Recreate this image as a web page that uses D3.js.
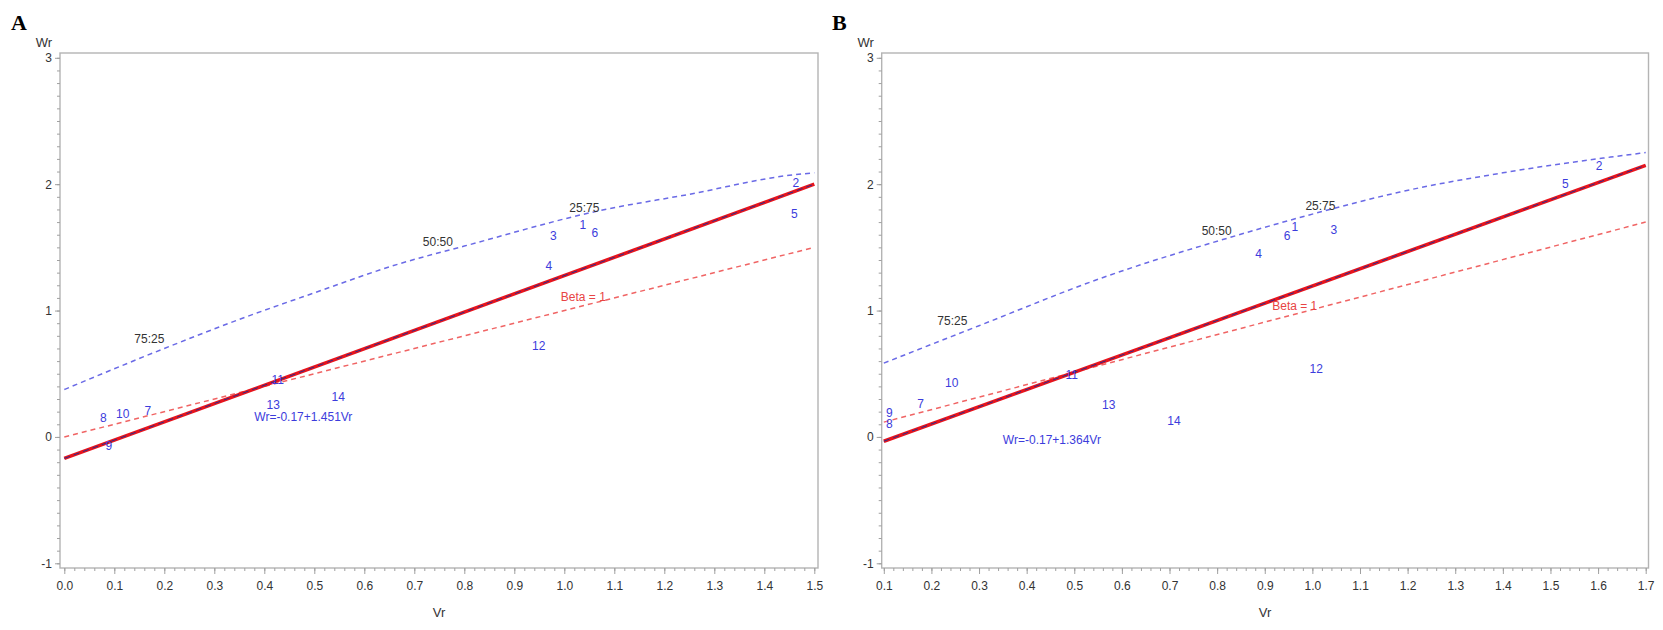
<!DOCTYPE html>
<html>
<head>
  <meta charset="utf-8">
  <script src="https://d3js.org/d3.v7.min.js"></script>
  <style>
    body { margin: 0; background: #fff; font-family: Arial, "Liberation Sans", sans-serif; }
  </style>
</head>
<body>
  <div id="my_dataviz"></div>
  <script>
    // ---- data, panel A ----
    var genotypes = ["1", "2", "3", "4", "5", "6", "7", "8", "9", "10", "11", "12", "13", "14"];
    var vrA = [1.037, 1.463, 0.978, 0.969, 1.46, 1.061, 0.167, 0.078, 0.089, 0.117, 0.427, 0.949, 0.418, 0.548];
    var wrA = [1.673, 2.011, 1.589, 1.349, 1.766, 1.613, 0.203, 0.153, -0.074, 0.185, 0.449, 0.722, 0.256, 0.314];
    var parabolaVrA = [0, 0.2, 0.35, 0.5, 0.67, 0.8, 1.07, 1.25, 1.45, 1.5];
    var parabolaWrA = [0.375, 0.70, 0.93, 1.14, 1.37, 1.51, 1.79, 1.92, 2.07, 2.09];
    var unitVrA = [0, 1.5];
    var unitWrA = [0, 1.5];
    var regVrA = [0, 1.5];
    var regWrA = [-0.17, 2.0];
    var ratioTextA = ["75:25", "50:50", "25:75"];
    var ratioVrA = [0.17, 0.747, 1.04];
    var ratioWrA = [0.778, 1.54, 1.81];
    var eqTextA = "Wr=-0.17+1.451Vr";
    var eqVrA = 0.38, eqWrA = 0.16;
    var betaVrA = 1.038, betaWrA = 1.107;
    var xTicksA = [0.0, 0.1, 0.2, 0.3, 0.4, 0.5, 0.6, 0.7, 0.8, 0.9, 1.0, 1.1, 1.2, 1.3, 1.4, 1.5];

    // ---- data, panel B ----
    var vrB = [0.963, 1.602, 1.045, 0.887, 1.531, 0.947, 0.1775, 0.1116, 0.1116, 0.2426, 0.4945, 1.008, 0.5722, 0.7093];
    var wrB = [1.661, 2.144, 1.64, 1.445, 2.005, 1.59, 0.262, 0.099, 0.19, 0.426, 0.487, 0.534, 0.251, 0.125];
    var parabolaVrB = [0.1, 0.3, 0.554, 0.83, 1.044, 1.184, 1.40, 1.7];
    var parabolaWrB = [0.584, 0.88, 1.253, 1.582, 1.807, 1.938, 2.09, 2.25];
    var unitVrB = [0.1, 1.7];
    var unitWrB = [0.117, 1.70];
    var regVrB = [0.1, 1.7];
    var regWrB = [-0.034, 2.149];
    var ratioTextB = ["75:25", "50:50", "25:75"];
    var ratioVrB = [0.244, 0.799, 1.017];
    var ratioWrB = [0.92, 1.63, 1.825];
    var eqTextB = "Wr=-0.17+1.364Vr";
    var eqVrB = 0.35, eqWrB = -0.021;
    var betaVrB = 0.963, betaWrB = 1.033;
    var xTicksB = [0.1, 0.2, 0.3, 0.4, 0.5, 0.6, 0.7, 0.8, 0.9, 1.0, 1.1, 1.2, 1.3, 1.4, 1.5, 1.6, 1.7];

    var yTicks = [-1, 0, 1, 2, 3];
    var yTickLabels = ["-1", "0", "1", "2", "3"];

    var svg = d3.select("#my_dataviz")
      .append("svg")
      .attr("width", 1663)
      .attr("height", 630);

    function zip(a, b) {
      return a.map(function (d, i) { return [d, b[i]]; });
    }

    function drawPanel(p) {
      var x = d3.scaleLinear().domain(p.xDomain).range(p.xRange);
      var y = d3.scaleLinear().domain([-1, 3]).range([563.3, 57.8]);
      var g = svg.append("g");

      // frame
      g.append("rect")
        .attr("x", p.frame[0]).attr("y", 53)
        .attr("width", p.frame[1] - p.frame[0]).attr("height", 568 - 53)
        .attr("fill", "none").attr("stroke", "#b4b4b4").attr("stroke-width", 1.4);

      // minor ticks
      var yMinor = d3.range(-10, 31).map(function (d) { return d / 10; });
      g.append("g")
        .attr("transform", "translate(" + p.frame[0] + ",0)")
        .call(d3.axisLeft(y).tickValues(yMinor).tickSize(3).tickFormat(""))
        .call(function (s) { s.select(".domain").remove(); s.selectAll("line").attr("stroke", "#a0a0a0"); });
      var xMinor = d3.range(Math.round(p.xDomain[0] * 50), Math.round(p.xDomain[1] * 50) + 1).map(function (d) { return d / 50; });
      g.append("g")
        .attr("transform", "translate(0,568)")
        .call(d3.axisBottom(x).tickValues(xMinor).tickSize(3).tickFormat(""))
        .call(function (s) { s.select(".domain").remove(); s.selectAll("line").attr("stroke", "#a0a0a0"); });

      // major ticks + labels
      g.append("g")
        .attr("transform", "translate(" + p.frame[0] + ",0)")
        .call(d3.axisLeft(y).tickValues(yTicks).tickSize(5).tickPadding(3)
          .tickFormat(function (d, i) { return yTickLabels[i]; }))
        .call(function (s) {
          s.select(".domain").remove();
          s.selectAll("line").attr("stroke", "#a0a0a0");
          s.selectAll("text").attr("fill", "#333").style("font-size", "12px").style("font-family", "Arial, 'Liberation Sans', sans-serif");
        });
      g.append("g")
        .attr("transform", "translate(0,568)")
        .call(d3.axisBottom(x).tickValues(p.xTicks).tickSize(6).tickPadding(7).tickFormat(d3.format(".1f")))
        .call(function (s) {
          s.select(".domain").remove();
          s.selectAll("line").attr("stroke", "#a0a0a0");
          s.selectAll("text").attr("fill", "#333").style("font-size", "12px").style("font-family", "Arial, 'Liberation Sans', sans-serif");
        });

      // axis titles
      g.append("text")
        .attr("x", p.frame[0] - 16).attr("y", 47)
        .attr("text-anchor", "middle").attr("fill", "#333").style("font-size", "13px")
        .text("Wr");
      g.append("text")
        .attr("x", (p.frame[0] + p.frame[1]) / 2).attr("y", 617)
        .attr("text-anchor", "middle").attr("fill", "#333").style("font-size", "13px")
        .text("Vr");

      // panel letter
      g.append("text")
        .attr("x", p.letterX).attr("y", 30)
        .attr("fill", "#000")
        .style("font-family", "'Liberation Serif', 'Times New Roman', serif")
        .style("font-weight", "bold").style("font-size", "22px")
        .text(p.letter);

      var line = d3.line()
        .x(function (d) { return x(d[0]); })
        .y(function (d) { return y(d[1]); });

      // limiting parabola
      g.append("path")
        .datum(zip(p.parVr, p.parWr))
        .attr("d", line.curve(d3.curveMonotoneX))
        .attr("fill", "none").attr("stroke", "#6a6ae6").attr("stroke-width", 1.5)
        .attr("stroke-dasharray", "5,4");
      line.curve(d3.curveLinear);

      // unit slope line
      g.append("path")
        .datum(zip(p.unitVr, p.unitWr))
        .attr("d", line)
        .attr("fill", "none").attr("stroke", "#f06464").attr("stroke-width", 1.5)
        .attr("stroke-dasharray", "5,4");

      // regression line
      g.append("path")
        .datum(zip(p.regVr, p.regWr))
        .attr("d", line)
        .attr("fill", "none").attr("stroke", "#e8141c").attr("stroke-width", 3.6);
      g.append("path")
        .datum(zip(p.regVr, p.regWr))
        .attr("d", line)
        .attr("fill", "none").attr("stroke", "#2c2c8c").attr("stroke-width", 1)
        .attr("stroke-dasharray", "6,4");

      // ratio labels
      g.selectAll(".ratio")
        .data(p.ratioText)
        .enter().append("text")
        .attr("x", function (d, i) { return x(p.ratioVr[i]); })
        .attr("y", function (d, i) { return y(p.ratioWr[i]); })
        .attr("text-anchor", "middle").attr("dominant-baseline", "central")
        .attr("fill", "#333").style("font-size", "12px")
        .text(function (d) { return d; });

      // beta label
      g.append("text")
        .attr("x", x(p.betaVr)).attr("y", y(p.betaWr))
        .attr("text-anchor", "middle").attr("dominant-baseline", "central")
        .attr("fill", "#e84444").style("font-size", "12px")
        .text("Beta = 1");

      // regression equation
      g.append("text")
        .attr("x", x(p.eqVr)).attr("y", y(p.eqWr))
        .attr("text-anchor", "start").attr("dominant-baseline", "central")
        .attr("fill", "#3c3cdc").style("font-size", "12px")
        .text(p.eqText);

      // genotype labels
      g.selectAll(".geno")
        .data(genotypes)
        .enter().append("text")
        .attr("x", function (d, i) { return x(p.vr[i]); })
        .attr("y", function (d, i) { return y(p.wr[i]); })
        .attr("text-anchor", "middle").attr("dominant-baseline", "central")
        .attr("fill", "#3c3cdc").style("font-size", "12px")
        .text(function (d) { return d; });
    }

    drawPanel({
      letter: "A", letterX: 11,
      frame: [60, 818],
      xDomain: [0, 1.5], xRange: [64.3, 814.3], xTicks: xTicksA,
      vr: vrA, wr: wrA,
      parVr: parabolaVrA, parWr: parabolaWrA,
      unitVr: unitVrA, unitWr: unitWrA,
      regVr: regVrA, regWr: regWrA,
      ratioText: ratioTextA, ratioVr: ratioVrA, ratioWr: ratioWrA,
      eqText: eqTextA, eqVr: eqVrA, eqWr: eqWrA,
      betaVr: betaVrA, betaWr: betaWrA
    });

    drawPanel({
      letter: "B", letterX: 832,
      frame: [881.7, 1648.5],
      xDomain: [0.1, 1.7], xRange: [883.8, 1645.7], xTicks: xTicksB,
      vr: vrB, wr: wrB,
      parVr: parabolaVrB, parWr: parabolaWrB,
      unitVr: unitVrB, unitWr: unitWrB,
      regVr: regVrB, regWr: regWrB,
      ratioText: ratioTextB, ratioVr: ratioVrB, ratioWr: ratioWrB,
      eqText: eqTextB, eqVr: eqVrB, eqWr: eqWrB,
      betaVr: betaVrB, betaWr: betaWrB
    });
  </script>
</body>
</html>
